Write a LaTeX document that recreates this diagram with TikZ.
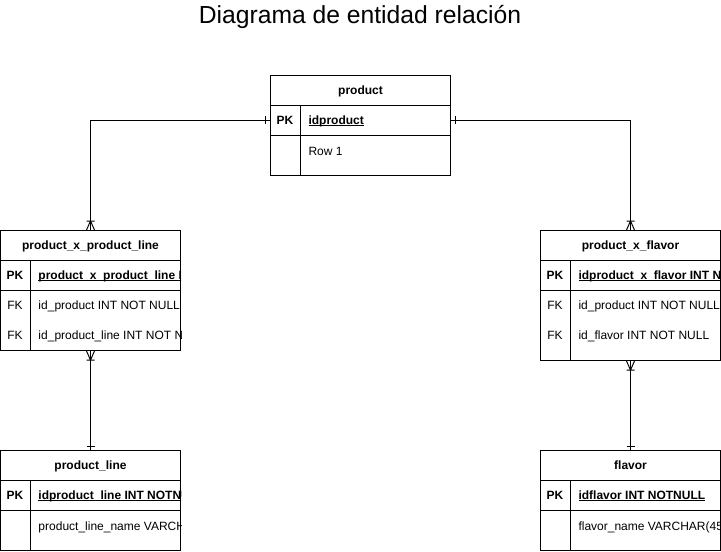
\documentclass[tikz,border=0pt]{standalone}
\usepackage{fontspec}
\setmainfont{Liberation Sans}
\usetikzlibrary{positioning, calc}
\newcommand{\keyline}[1]{\setbox0\hbox{#1}\rlap{\rule[-1.3pt]{\wd0}{0.45pt}}\box0}

\tikzset{
  tbl/.style={draw, minimum width=135pt, inner sep=0pt, anchor=north west},
  hdr/.style={font=\fontsize{9}{11}\selectfont\bfseries, anchor=base, inner sep=0pt},
  keycell/.style={font=\fontsize{9}{11}\selectfont, minimum width=22.5pt, minimum height=22.5pt, inner sep=0pt},
  pkcell/.style={keycell, font=\fontsize{9}{11}\selectfont\bfseries},
  field/.style={font=\fontsize{9}{11}\selectfont, anchor=base west, inner sep=0pt},
  pkfield/.style={field, font=\fontsize{9}{11}\selectfont\bfseries},
  crowfoot/.pic={\draw (-4,0) -- (0,9) -- (4,0) (-4,9) -- (4,9);},
  onebar/.pic={\draw (-4,4) -- (4,4);},
}

\begin{document}
\begin{tikzpicture}[x=0.75pt, y=-0.75pt, line width=0.75pt]
  \useasboundingbox (0,0) rectangle (721,551);

  \node[font=\fontsize{18.5}{22}\selectfont] (title) at (360,17) {Diagrama de entidad relación};

  % tables
  \node[tbl, minimum height=75pt] (product) at (270,75) {};
  \node[tbl, minimum height=90pt] (pxpl) at (0,230) {};
  \node[tbl, minimum height=97.5pt] (pxf) at (540,230) {};
  \node[tbl, minimum height=75pt] (pline) at (0,450) {};
  \node[tbl, minimum height=75pt] (flavor) at (540,450) {};

  \foreach \t in {product, pxpl, pxf, pline, flavor} {
    \draw (\t.north west) ++(0,30) -- ++(180,0);
    \draw (\t.north west) ++(0,60) -- ++(180,0);
    \draw ($(\t.north west)+(30,30)$) -- ($(\t.south west)+(30,0)$);
  }

  % product
  \node[hdr] at ($(product.north)+(0,19.3)$) {product};
  \node[pkcell] (product-pk) at ($(product.north west)+(15,45)$) {PK};
  \node[pkfield] at ($(product.north west)+(38,49.3)$) {\keyline{idproduct}};
  \node[field] at ($(product.north west)+(38,80.3)$) {Row 1};

  % product_x_product_line
  \begin{scope}
    \clip (pxpl.north west) rectangle (pxpl.south east);
    \node[hdr] at ($(pxpl.north)+(0,19.3)$) {product\_x\_product\_line};
    \node[pkcell] at ($(pxpl.north west)+(15,45)$) {PK};
    \node[pkfield] at ($(pxpl.north west)+(38,49.3)$) {\keyline{product\_x\_product\_line INT NOT NULL}};
    \foreach \k/\f [count=\i] in {FK/id\_product INT NOT NULL, FK/id\_product\_line INT NOT NULL} {
      \node[keycell] at ($(pxpl.north west)+(15,45+30*\i)$) {\k};
      \node[field] at ($(pxpl.north west)+(38,49.3+30*\i)$) {\f};
    }
  \end{scope}

  % product_x_flavor
  \begin{scope}
    \clip (pxf.north west) rectangle (pxf.south east);
    \node[hdr] at ($(pxf.north)+(0,19.3)$) {product\_x\_flavor};
    \node[pkcell] at ($(pxf.north west)+(15,45)$) {PK};
    \node[pkfield] at ($(pxf.north west)+(38,49.3)$) {\keyline{idproduct\_x\_flavor INT NOT NULL}};
    \foreach \k/\f [count=\i] in {FK/id\_product INT NOT NULL, FK/id\_flavor INT NOT NULL} {
      \node[keycell] at ($(pxf.north west)+(15,45+30*\i)$) {\k};
      \node[field] at ($(pxf.north west)+(38,49.3+30*\i)$) {\f};
    }
  \end{scope}

  % product_line
  \begin{scope}
    \clip (pline.north west) rectangle (pline.south east);
    \node[hdr] at ($(pline.north)+(0,19.3)$) {product\_line};
    \node[pkcell] at ($(pline.north west)+(15,45)$) {PK};
    \node[pkfield] at ($(pline.north west)+(38,49.3)$) {\keyline{idproduct\_line INT NOTNULL}};
    \node[field] at ($(pline.north west)+(38,80.3)$) {product\_line\_name VARCHAR(45)};
  \end{scope}

  % flavor
  \begin{scope}
    \clip (flavor.north west) rectangle (flavor.south east);
    \node[hdr] at ($(flavor.north)+(0,19.3)$) {flavor};
    \node[pkcell] at ($(flavor.north west)+(15,45)$) {PK};
    \node[pkfield] at ($(flavor.north west)+(38,49.3)$) {\keyline{idflavor INT NOTNULL}};
    \node[field] at ($(flavor.north west)+(38,80.3)$) {flavor\_name VARCHAR(45)};
  \end{scope}

  % relations
  \draw (product-pk.west) -| (pxpl.north);
  \draw (product.east |- product-pk) -| (pxf.north);
  \draw (pxpl.south) -- (pline.north);
  \draw (pxf.south) -- (flavor.north);

  \pic[rotate=-90] at (product-pk.west) {onebar};
  \pic[rotate=90] at (product.east |- product-pk) {onebar};
  \pic[rotate=180] at (pxpl.north) {crowfoot};
  \pic[rotate=180] at (pxf.north) {crowfoot};
  \pic at (pxpl.south) {crowfoot};
  \pic at (pxf.south) {crowfoot};
  \pic[rotate=180] at (pline.north) {onebar};
  \pic[rotate=180] at (flavor.north) {onebar};
\end{tikzpicture}
\end{document}
